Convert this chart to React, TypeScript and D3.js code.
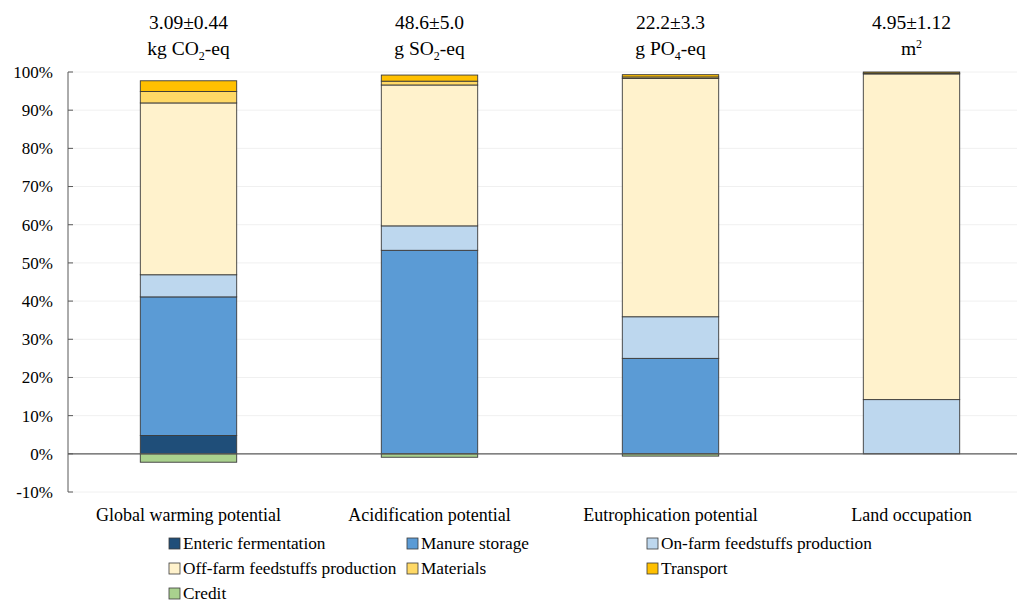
import React from "react";
import * as d3 from "d3";

const categories = ["Global warming potential", "Acidification potential", "Eutrophication potential", "Land occupation"];
const topValues = ["3.09±0.44", "48.6±5.0", "22.2±3.3", "4.95±1.12"];
const seriesNames = ["Enteric fermentation", "Manure storage", "On-farm feedstuffs production", "Off-farm feedstuffs production", "Materials", "Transport", "Credit"];
const enteric = [4.8, 0, 0, 0];
const manure = [36.3, 53.3, 25.0, 0];
const onFarm = [5.8, 6.4, 10.9, 14.2];
const offFarm = [45.0, 36.9, 62.4, 85.3];
const materials = [3.0, 1.0, 0.4, 0.2];
const transport = [2.8, 1.6, 0.6, 0.3];
const credit = [-2.2, -0.9, -0.6, 0];
const yTicks = [-10, 0, 10, 20, 30, 40, 50, 60, 70, 80, 90, 100];

const colors = ["#1F4E79", "#5B9BD5", "#BDD7EE", "#FFF2CC", "#FFD966", "#FFC000", "#A9D18E"];
const ts: React.CSSProperties = { fontFamily: `"Liberation Serif"` };

export default function App() {
  const W = 1017, H = 603;
  const left = 68, right = 1032, top = 72, bottom = 492;
  const x = d3.scaleBand<string>().domain(categories).range([left, right]).paddingInner(0.6).paddingOuter(0.3);
  const y = d3.scaleLinear().domain([-10, 100]).range([bottom, top]);
  const positive = [enteric, manure, onFarm, offFarm, materials, transport];

  const rects: React.ReactNode[] = [];
  categories.forEach((c, i) => {
    let acc = 0;
    positive.forEach((s, k) => {
      const v = s[i];
      if (v > 0) {
        rects.push(
          <rect key={`${c}-${k}`} x={x(c)} y={y(acc + v)} width={x.bandwidth()} height={y(acc) - y(acc + v)}
            fill={colors[k]} stroke="#3a3a3a" strokeWidth={0.9} />
        );
      }
      acc += v;
    });
    const cv = credit[i];
    if (cv < 0) {
      rects.push(
        <rect key={`${c}-credit`} x={x(c)} y={y(0)} width={x.bandwidth()} height={y(cv) - y(0)}
          fill={colors[6]} stroke="#3a3a3a" strokeWidth={0.9} />
      );
    }
  });

  const units: React.ReactNode[] = [
    <>kg CO<tspan fontSize={12} dy={5}>2</tspan><tspan dy={-5}>-eq</tspan></>,
    <>g SO<tspan fontSize={12} dy={5}>2</tspan><tspan dy={-5}>-eq</tspan></>,
    <>g PO<tspan fontSize={12} dy={5}>4</tspan><tspan dy={-5}>-eq</tspan></>,
    <>m<tspan fontSize={12} dy={-7}>2</tspan></>,
  ];

  const legendCols = [169, 407, 647];
  const legendRows = [543, 568, 593];

  return (
    <svg width={W} height={H} style={{ position: "absolute", left: 0, top: 0, background: "#fff", fontFamily: `"Liberation Serif"` }}>
      {yTicks.filter(t => t !== 0).map(t => (
        <line key={`g${t}`} x1={left} x2={W} y1={y(t)} y2={y(t)} stroke="#f0f0f0" strokeWidth={1} />
      ))}
      {rects}
      <line x1={left} x2={W} y1={y(0)} y2={y(0)} stroke="#595959" strokeWidth={1.2} />
      <line x1={left} x2={left} y1={y(100)} y2={y(-10)} stroke="#595959" strokeWidth={1} />
      {yTicks.map(t => (
        <g key={`t${t}`}>
          <line x1={left} x2={left + 5} y1={y(t)} y2={y(t)} stroke="#595959" strokeWidth={1} />
          <text style={ts} x={53} y={y(t)} dy="0.35em" textAnchor="end" fontSize={17} fill="#000">{t}%</text>
        </g>
      ))}
      {categories.map((c, i) => (
        <g key={`c${i}`}>
          <text style={ts} x={x(c)! + x.bandwidth() / 2} y={521} textAnchor="middle" fontSize={18} fill="#000">{c}</text>
          <text style={ts} x={x(c)! + x.bandwidth() / 2} y={29} textAnchor="middle" fontSize={19.5} fill="#000">{topValues[i]}</text>
          <text style={ts} x={x(c)! + x.bandwidth() / 2} y={55} textAnchor="middle" fontSize={19.5} fill="#000">{units[i]}</text>
        </g>
      ))}
      {seriesNames.map((n, k) => {
        const col = k % 3, row = Math.floor(k / 3);
        const lx = legendCols[col], ly = legendRows[row];
        return (
          <g key={`l${k}`}>
            <rect x={lx} y={ly - 5} width={11} height={11} fill={colors[k]} stroke="#3a3a3a" strokeWidth={0.8} />
            <text style={ts} x={lx + 14} y={ly} dy="0.35em" fontSize={17.3} fill="#000">{n}</text>
          </g>
        );
      })}
    </svg>
  );
}
